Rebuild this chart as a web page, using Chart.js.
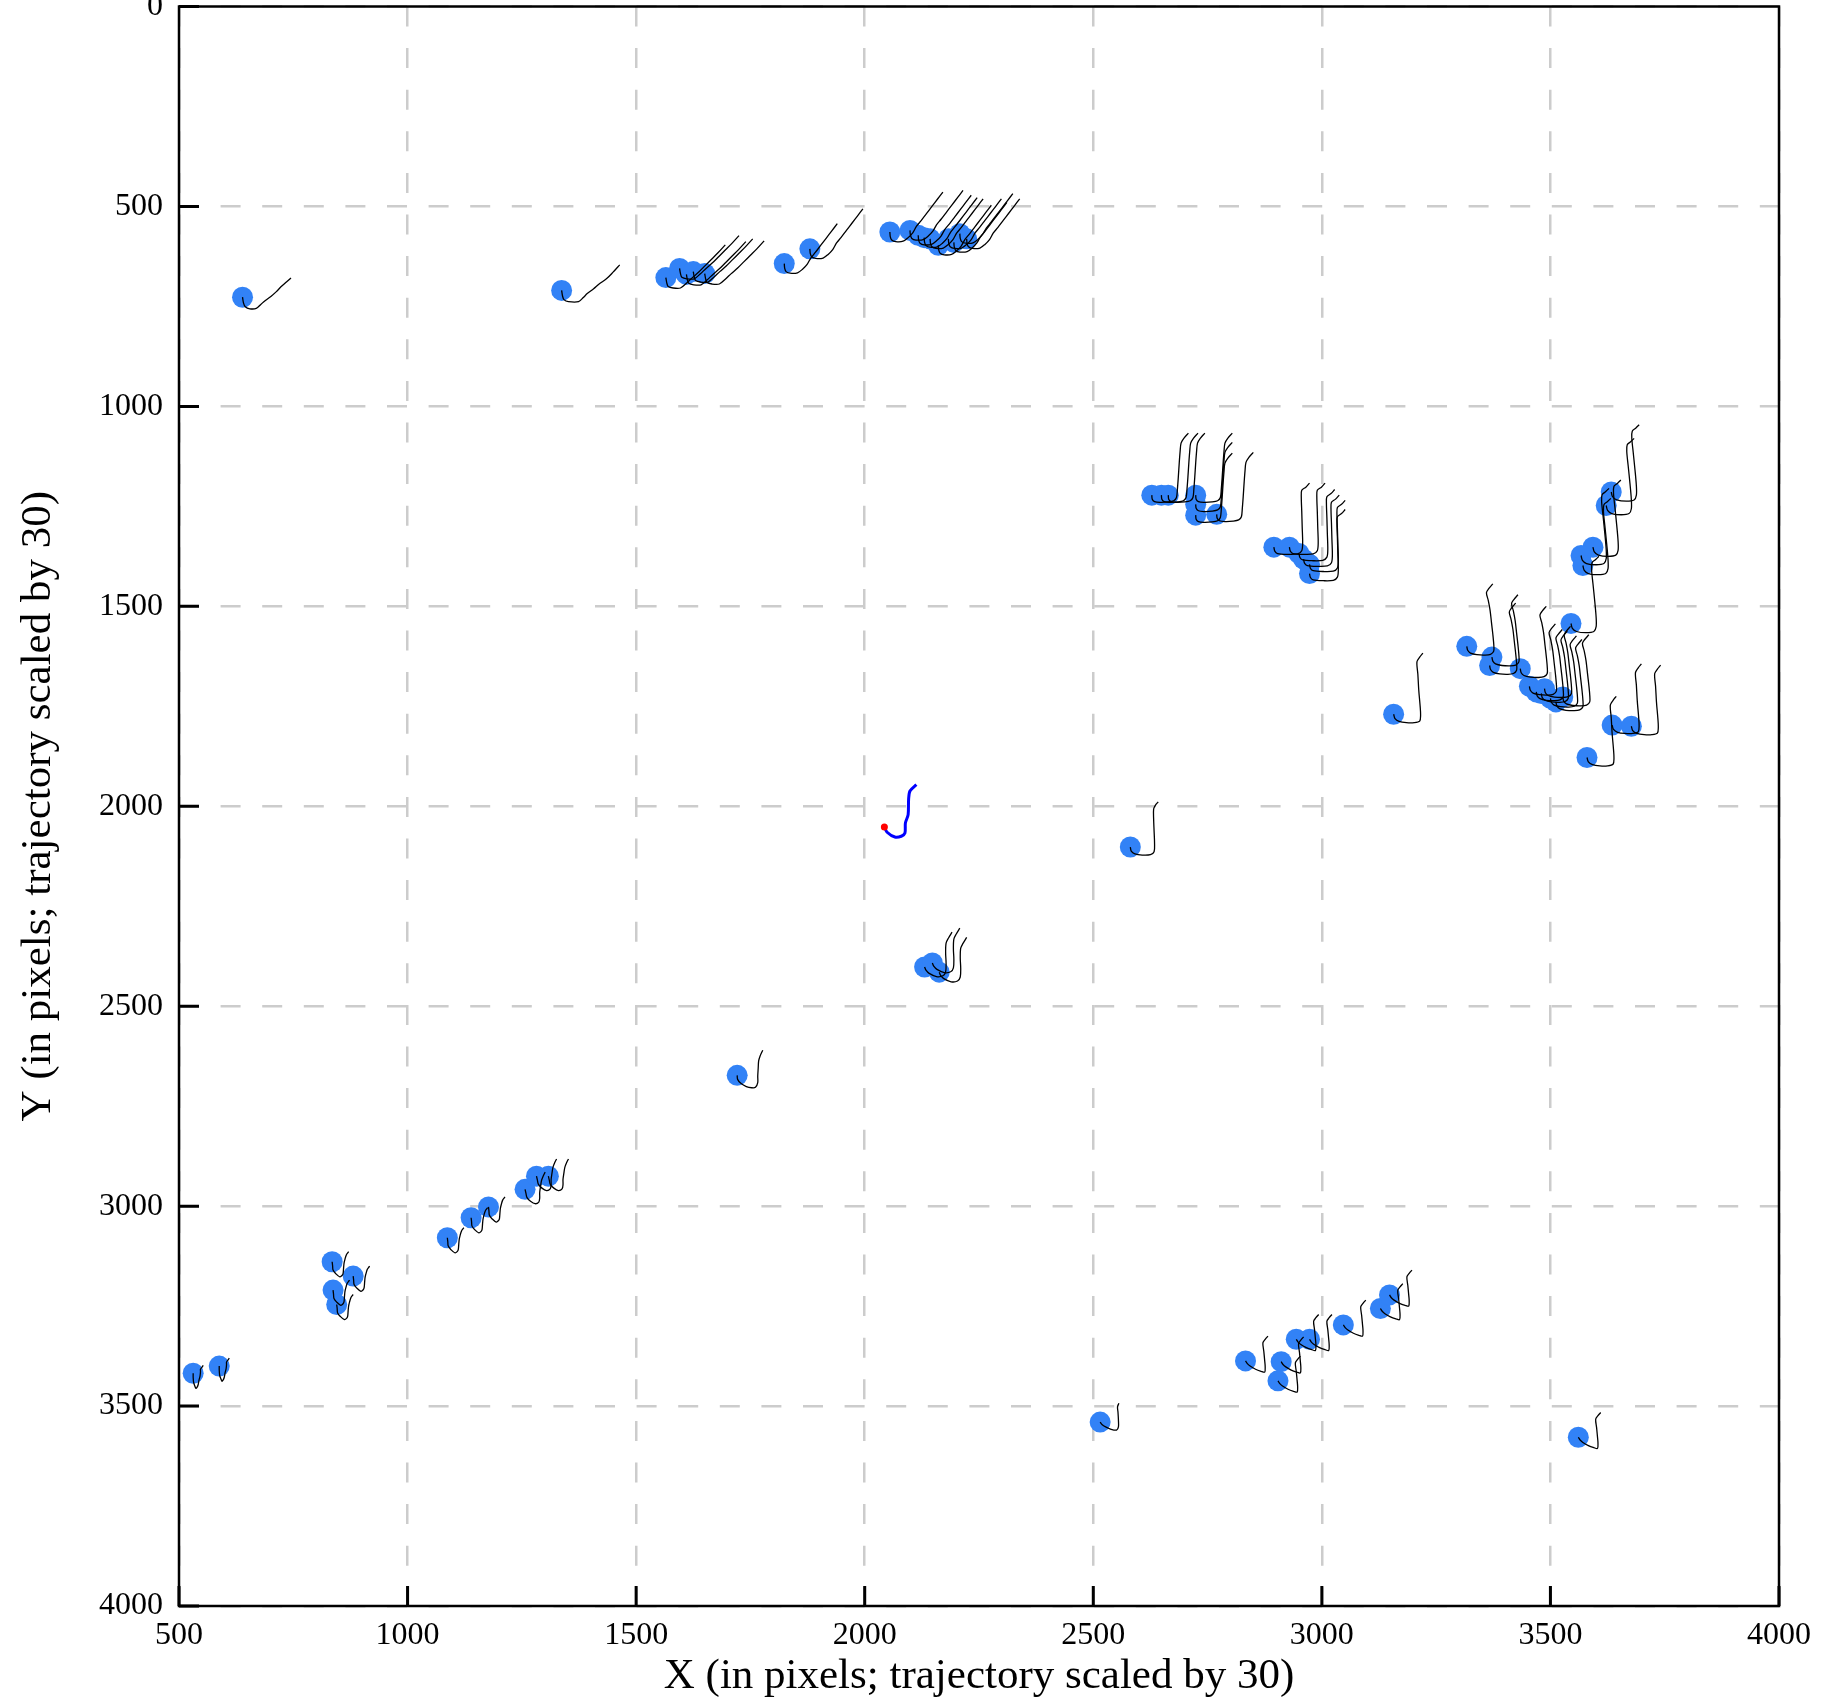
<!DOCTYPE html>
<html>
<head>
<meta charset="utf-8">
<script src="https://cdn.jsdelivr.net/npm/chart.js@4/dist/chart.umd.min.js"></script>
<style>
  html, body { margin: 0; padding: 0; background: #fff; }
  #wrap { width: 1825px; height: 1708px; overflow: hidden; position: relative; }
  #c { position: absolute; left: 0; top: -4px; }
</style>
</head>
<body>
<div id="wrap"><canvas id="c" width="1825" height="1712"></canvas></div>
<script>
// 座標軸刻度
const X_TICKS = [500, 1000, 1500, 2000, 2500, 3000, 3500, 4000];
const Y_TICKS = [0, 500, 1000, 1500, 2000, 2500, 3000, 3500, 4000];

// 軌跡形狀 (相對於物件位置的位移, 已乘以 30)
const TRAJ_TOP_SHALLOW = [[0,0],[2,14],[6,24],[16,29],[30,28],[40,18],[50,8],[62,-2],[74,-14],[84,-26],[96,-38],[106,-48]];
const TRAJ_TOP_MID = [[0,0],[2,14],[5,23],[15,28],[37,28],[48,17],[56,8],[70,-4],[82,-16],[98,-29],[112,-45],[127,-64]];
const TRAJ_TOP_B = [[0,0],[2,13],[5,22],[16,26],[32,26],[45,14],[58,0],[72,-14],[86,-30],[100,-46],[114,-62],[130,-82]];
const TRAJ_TOP_STEEP = [[0,0],[1,12],[4,20],[13,24],[29,23],[40,14],[50,2],[58,-14],[68,-28],[80,-46],[92,-64],[104,-82],[116,-100]];
const TRAJ_SLANT_R = [[0,0],[1,10],[6,16],[18,18],[36,17],[48,14],[54,6],[56,-15],[58,-45],[60,-80],[62,-110],[64,-130],[70,-142],[80,-155]];
const TRAJ_HOOK_B = [[0,0],[2,10],[8,16],[30,18],[52,17],[61,9],[63,-10],[62,-50],[61,-90],[60,-125],[61,-142],[70,-150],[78,-160]];
const TRAJ_TALL = [[0,0],[3,12],[12,20],[33,23],[50,20],[55,8],[55,-15],[52,-55],[48,-100],[45,-135],[46,-152],[54,-160],[61,-168]];
const TRAJ_SLANT_L = [[0,0],[2,10],[8,17],[22,21],[40,22],[52,20],[59,12],[59,-5],[57,-30],[54,-60],[51,-90],[47,-115],[43,-134],[48,-144],[57,-156]];
const TRAJ_MID = [[0,0],[3,11],[12,18],[28,21],[45,21],[57,17],[59,2],[58,-20],[55,-60],[53,-100],[51,-131],[57,-143],[64,-153]];
const TRAJ_SHORT_A = [[0,0],[2,10],[10,17],[26,20],[44,19],[52,12],[53,-10],[52,-40],[51,-70],[51,-95],[55,-105],[61,-113]];
const TRAJ_SHORT_B = [[0,0],[3,8],[10,16],[26,24],[40,22],[46,12],[47,-10],[46,-35],[47,-60],[52,-72],[60,-87]];
const TRAJ_SHORT_C = [[0,0],[1,10],[8,20],[20,28],[32,31],[40,30],[45,18],[45,2],[46,-18],[47,-36],[50,-48],[56,-63]];
const TRAJ_LOW_R = [[0,0],[4,7],[10,13],[22,21],[34,26],[42,28],[43,14],[42,0],[40,-24],[38,-45],[43,-54],[49,-62]];
const TRAJ_LOW_S = [[0,0],[4,6],[12,12],[24,18],[36,20],[40,12],[40,-5],[39,-25],[38,-38],[41,-47]];
const TRAJ_LOW_L1 = [[0,0],[0,10],[1,23],[4,33],[6,38],[9,34],[11,28],[13,16],[15,7],[16,-4],[16,-10],[19,-15],[22,-20]];
const TRAJ_LOW_L2 = [[0,0],[1,10],[2,21],[8,30],[17,38],[22,34],[24,29],[25,16],[26,4],[28,-6],[31,-17],[34,-22],[36,-25]];
const TRAJ_LOW_L3 = [[0,0],[2,10],[4,20],[12,30],[22,36],[30,32],[32,22],[32,8],[34,-8],[36,-22],[40,-34],[44,-43]];

// 物件位置 (X, Y)
const OBJ_TOP_SHALLOW = [[639,727]];
const OBJ_TOP_MID = [[1337,710]];
const OBJ_TOP_B = [[1565,678],[1595,655],[1610,670],[1625,663],[1650,668]];
const OBJ_TOP_STEEP = [[1824,643],[1880,606],[2055,564],[2099,560],[2117,572],[2130,578],[2143,581],[2161,597],[2183,581],[2195,590],[2208,568],[2223,581]];
const OBJ_SLANT_R = [[2628,1222],[2649,1222],[2664,1222],[2724,1222],[2724,1245],[2724,1272],[2770,1270]];
const OBJ_HOOK_B = [[2895,1352],[2929,1352],[2950,1368],[2960,1382],[2973,1395],[2973,1418]];
const OBJ_TALL = [[3633,1214],[3622,1248],[3593,1352],[3567,1373],[3571,1398],[3545,1543]];
const OBJ_SLANT_L = [[3317,1600],[3372,1627],[3367,1648],[3434,1656],[3454,1700],[3469,1714],[3480,1718],[3487,1706],[3500,1730],[3512,1739],[3527,1727]];
const OBJ_MID = [[3157,1770],[3580,1878],[3635,1797],[3677,1800]];
const OBJ_SHORT_A = [[2581,2102]];
const OBJ_SHORT_B = [[2131,2402],[2148,2392],[2163,2415]];
const OBJ_SHORT_C = [[1721,2673]];
const OBJ_LOW_R = [[2833,3387],[2911,3389],[2904,3437],[2944,3333],[2973,3333],[3047,3297],[3128,3256],[3148,3222],[3561,3578]];
const OBJ_LOW_S = [[2515,3540]];
const OBJ_LOW_L1 = [[531,3418],[588,3400]];
const OBJ_LOW_L2 = [[835,3139],[881,3175],[837,3210],[845,3246],[1087,3079],[1139,3029],[1177,3002]];
const OBJ_LOW_L3 = [[1257,2958],[1282,2925],[1308,2925]];

// 本車軌跡
const EGO_X = [2043, 2049, 2066, 2080, 2088, 2089, 2095, 2096, 2099, 2113];
const EGO_Y = [2052, 2065, 2077, 2075, 2067, 2042, 2021, 1983, 1962, 1946];

const GROUPS = [
    [OBJ_TOP_SHALLOW, TRAJ_TOP_SHALLOW],
    [OBJ_TOP_MID, TRAJ_TOP_MID],
    [OBJ_TOP_B, TRAJ_TOP_B],
    [OBJ_TOP_STEEP, TRAJ_TOP_STEEP],
    [OBJ_SLANT_R, TRAJ_SLANT_R],
    [OBJ_HOOK_B, TRAJ_HOOK_B],
    [OBJ_TALL, TRAJ_TALL],
    [OBJ_SLANT_L, TRAJ_SLANT_L],
    [OBJ_MID, TRAJ_MID],
    [OBJ_SHORT_A, TRAJ_SHORT_A],
    [OBJ_SHORT_B, TRAJ_SHORT_B],
    [OBJ_SHORT_C, TRAJ_SHORT_C],
    [OBJ_LOW_R, TRAJ_LOW_R],
    [OBJ_LOW_S, TRAJ_LOW_S],
    [OBJ_LOW_L1, TRAJ_LOW_L1],
    [OBJ_LOW_L2, TRAJ_LOW_L2],
    [OBJ_LOW_L3, TRAJ_LOW_L3]
];

const datasets = [];

// 物件圓點
const objPoints = [];
GROUPS.forEach(([objs]) => objs.forEach(([x, y]) => objPoints.push({ x, y })));
datasets.push({
    data: objPoints,
    pointRadius: 10.5,
    pointBackgroundColor: 'rgb(50,130,246)',
    pointBorderWidth: 0,
    showLine: false,
    order: 10
});

// 每個物件的軌跡
GROUPS.forEach(([objs, traj]) => {
    objs.forEach(([x, y]) => {
        datasets.push({
            data: traj.map(([dx, dy]) => ({ x: x + dx, y: y + dy })),
            showLine: true,
            borderColor: '#000',
            borderWidth: 1.3,
            tension: 0.3,
            pointRadius: 0,
            order: 5
        });
    });
});

// 本車
datasets.push({
    data: EGO_X.map((x, i) => ({ x, y: EGO_Y[i] })),
    showLine: true,
    borderColor: '#0000ff',
    borderWidth: 3,
    tension: 0.3,
    pointRadius: 0,
    order: 2
});
datasets.push({
    data: [{ x: EGO_X[0], y: EGO_Y[0] }],
    pointRadius: 3.5,
    pointBackgroundColor: '#ff0000',
    pointBorderWidth: 0,
    order: 1
});

// 外框與向內刻度
const framePlugin = {
    id: 'frame',
    afterDraw(chart) {
        const { ctx, chartArea: a, scales } = chart;
        ctx.save();
        ctx.strokeStyle = '#000';
        ctx.lineWidth = 2.5;
        ctx.strokeRect(a.left, a.top, a.right - a.left, a.bottom - a.top);
        ctx.lineWidth = 3;
        ctx.beginPath();
        X_TICKS.forEach(v => {
            const px = scales.x.getPixelForValue(v);
            ctx.moveTo(px, a.bottom);
            ctx.lineTo(px, a.bottom - 20);
        });
        Y_TICKS.forEach(v => {
            const py = scales.y.getPixelForValue(v);
            ctx.moveTo(a.left, py);
            ctx.lineTo(a.left + 20, py);
        });
        ctx.stroke();
        ctx.restore();
    }
};

const tickFont = { family: 'Liberation Serif', size: 32 };
const yTickFont = { family: 'Liberation Serif', size: 32, lineHeight: 0.3 };
const titleFont = { family: 'Liberation Serif', size: 43 };
const gridOpts = {
    color: '#cccccc',
    lineWidth: 2.5,
    drawTicks: false
};

new Chart(document.getElementById('c'), {
    type: 'scatter',
    data: { datasets },
    options: {
        responsive: false,
        animation: false,
        layout: { padding: { left: 0, right: 46, top: 6, bottom: 0 } },
        plugins: { legend: { display: false }, tooltip: { enabled: false } },
        scales: {
            x: {
                type: 'linear',
                min: 500,
                max: 4000,
                afterBuildTicks: s => { s.ticks = X_TICKS.map(v => ({ value: v })); },
                afterFit: s => { s.height = 102; s.paddingLeft = 0; s.paddingRight = 0; },
                ticks: { font: tickFont, color: '#000', padding: 10, maxRotation: 0, callback: v => String(v) },
                grid: gridOpts,
                border: { display: false, dash: [20, 21.6] },
                title: { display: true, text: 'X (in pixels; trajectory scaled by 30)', font: titleFont, color: '#000', padding: { top: 0, bottom: 5 } }
            },
            y: {
                type: 'linear',
                min: 0,
                max: 4000,
                reverse: true,
                afterBuildTicks: s => { s.ticks = Y_TICKS.map(v => ({ value: v })); },
                afterFit: s => { s.width = 179; s.paddingTop = 0; s.paddingBottom = 0; },
                ticks: { font: yTickFont, color: '#000', padding: 16, callback: v => String(v) },
                grid: gridOpts,
                border: { display: false, dash: [20, 21.6] },
                title: { display: true, text: 'Y (in pixels; trajectory scaled by 30)', font: titleFont, color: '#000', padding: { top: 13, bottom: 0 } }
            }
        }
    },
    plugins: [framePlugin]
});
</script>
</body>
</html>
